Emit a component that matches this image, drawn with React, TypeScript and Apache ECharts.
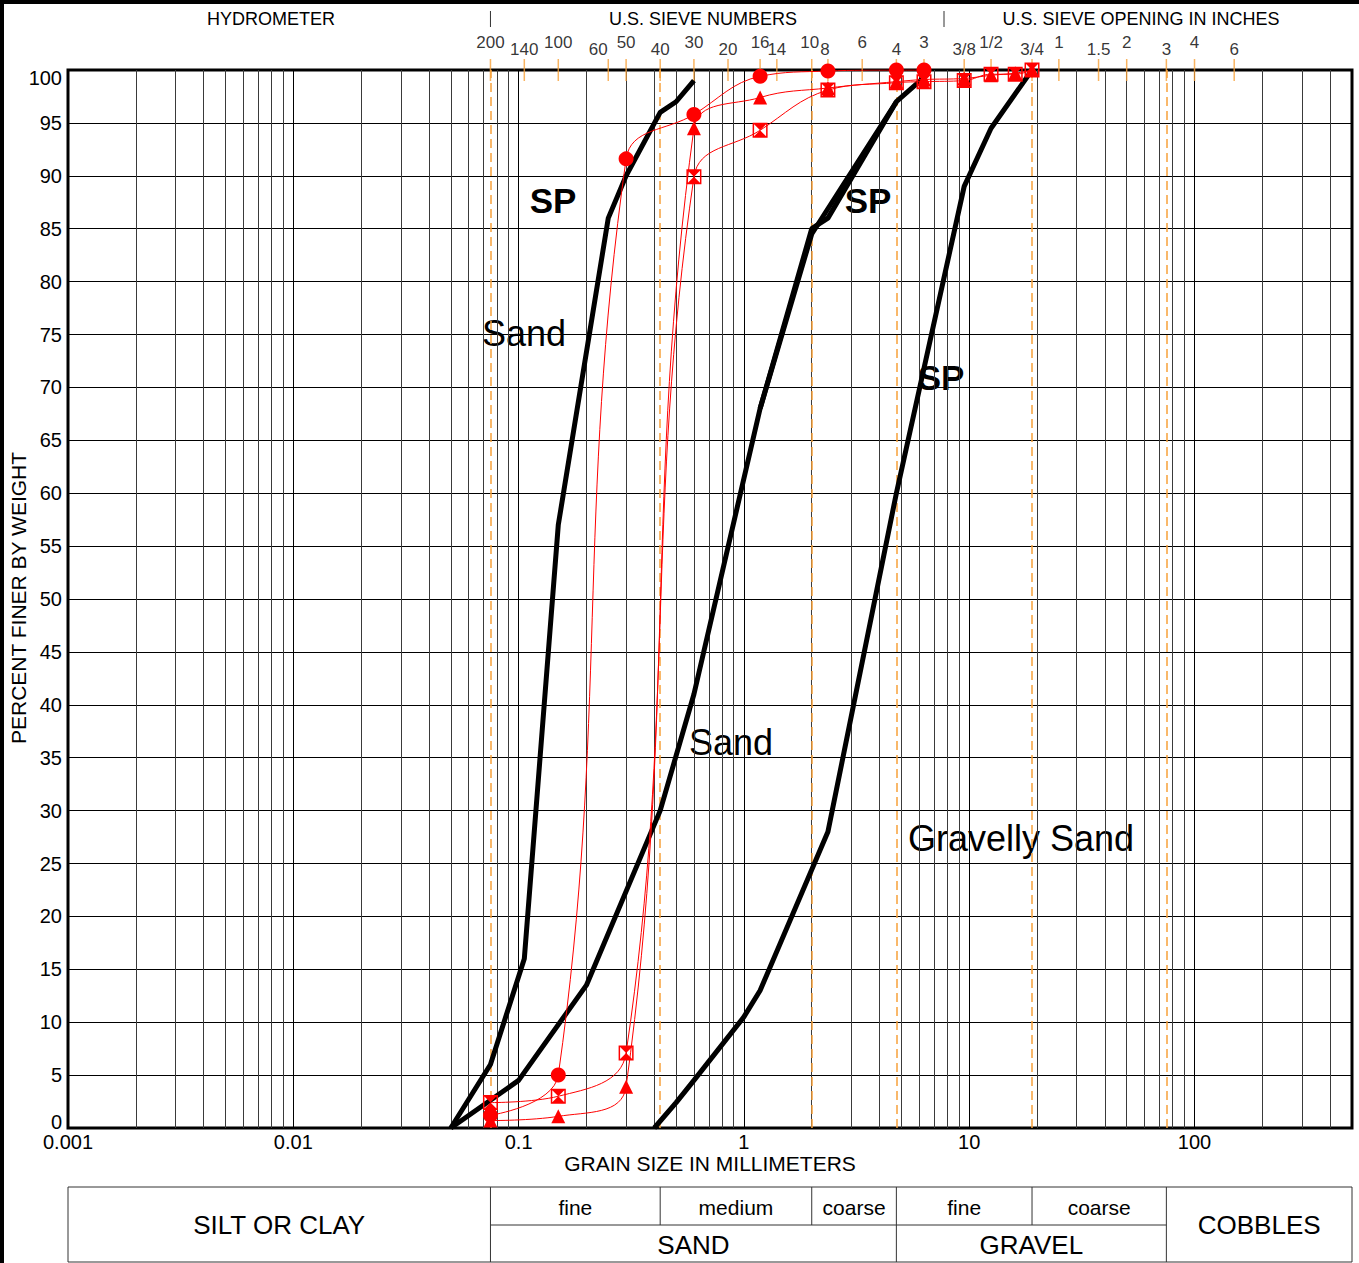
import React, { useEffect, useRef } from "react";
import * as echarts from "echarts";

const FONT = "'Liberation Sans', Arial, sans-serif";
const ORANGE = "#f7a13a";
const RED = "#ff0000";

const xMin = 0.001;
const xMax = 500;
const xTickLabels = ["0.001", "0.01", "0.1", "1", "10", "100"];

// US sieve sizes (mm) and their labels along the top
const sieveSizes = [0.075, 0.106, 0.15, 0.25, 0.3, 0.425, 0.6, 0.85, 1.18, 1.4, 2.0, 2.36, 3.35, 4.75, 6.3, 9.5, 12.5, 19, 25, 37.5, 50, 75, 100, 150];
const sieveLabels = ["200", "140", "100", "60", "50", "40", "30", "20", "16", "14", "10", "8", "6", "4", "3", "3/8", "1/2", "3/4", "1", "1.5", "2", "3", "4", "6"];
const sieveLabelRow = [0, 1, 0, 1, 0, 1, 0, 1, 0, 1, 0, 1, 0, 1, 0, 1, 0, 1, 0, 1, 0, 1, 0, 1];
const sieveLabelShift = [0, 0, 0, -10, 0, 0, 0, 0, 0, 0, -2, -3, 0, 0, 0, 0, 0, 0, 0, 0, 0, 0, 0, 0];

// class boundaries (dashed orange lines and table columns)
const boundarySizes = [0.075, 0.425, 2.0, 4.75, 19, 75];

// black reference envelopes
const sandCurveA = [[0.05, 0], [0.075, 6], [0.106, 16], [0.15, 57], [0.25, 86], [0.3, 90], [0.425, 96], [0.5, 97], [0.6, 99]];
const sandCurveB = [[0.05, 0], [0.1, 4.5], [0.2, 13.5], [0.425, 30], [0.6, 41], [1.18, 68], [2.0, 85], [2.36, 86], [4.75, 97], [6.3, 99.3]];
const sandCurveB2 = [[1.18, 68], [2.0, 84.5], [4.75, 97]];
const gravellySandCurve = [[0.4, 0], [0.5, 2.4], [0.6, 4.5], [1.0, 10.5], [1.18, 13], [2.36, 28], [4.75, 60], [9.5, 89], [12.5, 94.5], [19, 100]];

// red test samples
const sampleCircle = [[0.075, 1.2], [0.15, 5], [0.3, 91.6], [0.6, 95.8], [1.18, 99.4], [2.36, 99.9], [4.75, 100], [6.3, 100]];
const sampleTriangle = [[0.075, 0.7], [0.15, 1.1], [0.3, 3.9], [0.6, 94.5], [1.18, 97.4], [2.36, 98.3], [4.75, 98.9], [6.3, 99.1], [9.5, 99.2], [12.5, 99.5], [16, 99.7], [19, 100]];
const sampleHourglass = [[0.075, 2.4], [0.15, 3], [0.3, 7.1], [0.6, 89.9], [1.18, 94.3], [2.36, 98.1], [4.75, 98.8], [6.3, 98.9], [9.5, 99], [12.5, 99.6], [16, 99.6], [19, 100]];

const HOURGLASS = "path://M0 0L20 0L20 20L0 20Z M2 2L2 18L18 18L18 2Z M2 2L18 2L10 10Z M2 18L10 10L18 18Z";

function minorGridValues(): number[] {
  const out: number[] = [];
  for (let k = -3; k <= 2; k++) {
    for (let m = 2; m <= 9; m++) {
      const v = m * Math.pow(10, k);
      if (v < xMax) out.push(v);
    }
  }
  return out;
}

function blackSeries(data: number[][]) {
  return {
    type: "line",
    data,
    symbol: "none",
    z: 4,
    lineStyle: { color: "#000", width: 5 },
    itemStyle: { color: "#000" },
  };
}

function redSeries(data: number[][], symbol: string, size: number) {
  return {
    type: "line",
    data,
    smooth: 0.4,
    symbol,
    symbolSize: size,
    showSymbol: true,
    z: 6,
    lineStyle: { color: RED, width: 1 },
    itemStyle: { color: RED },
  };
}

export default function App() {
  const ref = useRef<HTMLDivElement>(null);
  useEffect(() => {
    document.body.style.margin = "0";
    const el = ref.current as HTMLDivElement;
    const chart = echarts.init(el, null, { renderer: "svg" });

    const option: any = {
      animation: false,
      backgroundColor: "#fff",
      textStyle: { fontFamily: FONT },
      grid: { left: 68, right: 7, top: 70, bottom: 135, show: true, borderColor: "#000", borderWidth: 3, backgroundColor: "transparent" },
      xAxis: {
        type: "log",
        logBase: 10,
        min: xMin,
        max: xMax,
        axisLine: { show: false },
        axisTick: { show: false },
        splitLine: { show: true, lineStyle: { color: "#000", width: 1 } },
        axisLabel: {
          color: "#000",
          fontSize: 20,
          fontFamily: FONT,
          margin: 4,
          showMinLabel: true,
          showMaxLabel: false,
          formatter: (v: number) => {
            const e = Math.log10(v);
            const r = Math.round(e);
            if (Math.abs(e - r) > 1e-6) return "";
            return xTickLabels[r + 3] ?? "";
          },
        },
      },
      yAxis: {
        type: "value",
        min: 0,
        max: 100,
        interval: 5,
        axisLine: { show: false },
        axisTick: { show: false },
        splitLine: { show: true, lineStyle: { color: "#000", width: 1 } },
        axisLabel: {
          color: "#000",
          fontSize: 20,
          fontFamily: FONT,
          margin: 6,
          formatter: (v: number) => (v === 100 ? "{t|100}" : v === 0 ? "{b|0}" : String(v)),
          rich: {
            t: { fontSize: 20, fontFamily: FONT, color: "#000", padding: [16, 0, 0, 0] },
            b: { fontSize: 20, fontFamily: FONT, color: "#000", padding: [0, 0, 13, 0] },
          },
        },
      },
      series: [
        {
          type: "lines",
          coordinateSystem: "cartesian2d",
          z: 1,
          silent: true,
          lineStyle: { color: "#3a3a3a", width: 1, type: "solid", opacity: 1 },
          data: minorGridValues().map((v) => ({ coords: [[v, 0], [v, 100]] })),
        },
        {
          type: "lines",
          coordinateSystem: "cartesian2d",
          z: 2,
          silent: true,
          lineStyle: { color: ORANGE, width: 1.5, type: [9, 5], opacity: 1 },
          data: boundarySizes.map((v) => ({ coords: [[v, 0], [v, 100]] })),
        },
        blackSeries(sandCurveA),
        blackSeries(sandCurveB),
        blackSeries(sandCurveB2),
        blackSeries(gravellySandCurve),
        redSeries(sampleTriangle, "triangle", 14),
        redSeries(sampleCircle, "circle", 15),
        redSeries(sampleHourglass, HOURGLASS, 15),
        {
          type: "scatter",
          clip: false,
          silent: true,
          z: 3,
          symbol: "rect",
          symbolSize: [1.5, 22],
          itemStyle: { color: ORANGE },
          label: { show: true, position: "top", formatter: "{b}", color: "#000", fontSize: 17, fontFamily: FONT },
          data: sieveSizes.map((s, i) => ({
            name: sieveLabels[i],
            value: [s, 100],
            label: { distance: sieveLabelRow[i] ? 1 : 8, offset: [sieveLabelShift[i], 0] },
          })),
        },
      ],
    };
    chart.setOption(option);

    const px = (v: number) => chart.convertToPixel({ xAxisIndex: 0 }, v) as number;
    const L = px(xMin);
    const R = px(xMax);
    const b = boundarySizes.map(px);
    const tTop = 1187, tMid = 1225, tBot = 1262;
    const thin = { stroke: "#333", lineWidth: 1 };
    const line = (x1: number, y1: number, x2: number, y2: number, style: any = thin) => ({ type: "line", shape: { x1, y1, x2, y2 }, style, silent: true });
    const text = (t: string, x: number, y: number, size: number, bold = false) => ({
      type: "text",
      x,
      y,
      silent: true,
      style: { text: t, fill: "#000", font: `${bold ? "bold " : ""}${size}px ${FONT}`, textAlign: "center", textVerticalAlign: "middle" },
    });

    const graphic: any[] = [
      { type: "rect", shape: { x: 0, y: 0, width: 1359, height: 4 }, style: { fill: "#000" }, silent: true },
      { type: "rect", shape: { x: 0, y: 0, width: 4, height: 1263 }, style: { fill: "#000" }, silent: true },
      text("HYDROMETER", 271, 19, 18),
      line(b[0], 11, b[0], 27),
      text("U.S. SIEVE NUMBERS", 703, 19, 18),
      line(944, 11, 944, 27),
      text("U.S. SIEVE OPENING IN INCHES", 1141, 19, 18),
      { ...text("PERCENT FINER BY WEIGHT", 18, 598, 21), rotation: Math.PI / 2 },
      text("GRAIN SIZE IN MILLIMETERS", (L + R) / 2, 1163, 21),
      // classification table
      { type: "rect", shape: { x: L, y: tTop, width: R - L, height: tBot - tTop }, style: { fill: "none", stroke: "#333", lineWidth: 1 }, silent: true },
      line(b[0], tMid, b[5], tMid),
      line(b[0], tTop, b[0], tBot),
      line(b[3], tTop, b[3], tBot),
      line(b[5], tTop, b[5], tBot),
      line(b[1], tTop, b[1], tMid),
      line(b[2], tTop, b[2], tMid),
      line(b[4], tTop, b[4], tMid),
      text("SILT OR CLAY", (L + b[0]) / 2, 1225, 26),
      text("fine", (b[0] + b[1]) / 2, 1207, 21),
      text("medium", (b[1] + b[2]) / 2, 1207, 21),
      text("coarse", (b[2] + b[3]) / 2, 1207, 21),
      text("fine", (b[3] + b[4]) / 2, 1207, 21),
      text("coarse", (b[4] + b[5]) / 2, 1207, 21),
      text("SAND", (b[0] + b[3]) / 2, 1245, 26),
      text("GRAVEL", (b[3] + b[5]) / 2, 1245, 26),
      text("COBBLES", (b[5] + R) / 2, 1225, 26),
      // curve annotations
      text("SP", 553, 200, 35, true),
      text("Sand", 524, 333, 36),
      text("SP", 868, 200, 35, true),
      text("Sand", 731, 742, 36),
      text("SP", 941, 377, 35, true),
      text("Gravelly Sand", 1021, 838, 36),
    ];
    chart.setOption({ graphic });

    return () => chart.dispose();
  }, []);
  return <div ref={ref} style={{ width: 1359, height: 1263 }} />;
}
